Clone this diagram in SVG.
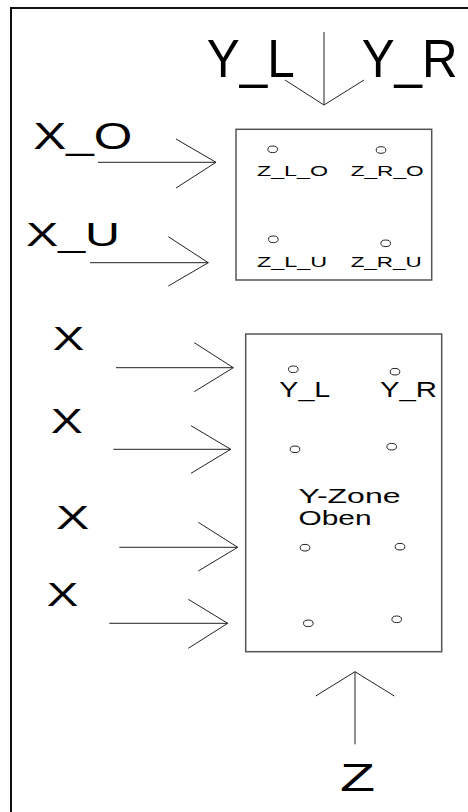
<svg xmlns="http://www.w3.org/2000/svg" width="468" height="812" viewBox="0 0 468 812">
<style>
text{font-family:"Liberation Sans",Arial,sans-serif;fill:#000}
.frame{fill:none;stroke:#111;stroke-width:2}
.box{fill:#fff;stroke:#555;stroke-width:1.5}
.pt{fill:#fff;stroke:#222;stroke-width:1}
.ar{fill:none;stroke:#222;stroke-width:1}
</style>
<rect width="468" height="812" fill="#fff"/>
<path class="frame" d="M11,812 V8 H468"/>
<g id="connectors">
<path class="ar" d="M324,32 V105 M285,80 L324,105 L364,80"/>
<path class="ar" d="M98,162.3 H216 M176,139 L216,162.3 L176,188"/>
<path class="ar" d="M90,262.7 H208.3 M168.3,236.7 L208.3,262.7 L168.3,286"/>
<path class="ar" d="M116,367.7 H233.3 M194.3,342.7 L233.3,367.7 L194.3,391.7"/>
<path class="ar" d="M113.3,449.3 H230.7 M191,425.7 L230.7,449.3 L191,473.3"/>
<path class="ar" d="M119.3,547.3 H237.7 M198.3,522.3 L237.7,547.3 L198.3,571"/>
<path class="ar" d="M109.3,623.3 H227.7 M188.3,599.3 L227.7,623.3 L188.3,648.3"/>
<path class="ar" d="M355,744.3 V671.7 M315.7,696 L355,671.7 L394.3,696"/>
</g>
<g id="top-box">
<rect class="box" x="236" y="129.3" width="195.7" height="150.7"/>
<ellipse class="pt" cx="272.7" cy="149.3" rx="4.8" ry="3.3"/>
<ellipse class="pt" cx="381" cy="150" rx="4.8" ry="3.3"/>
<ellipse class="pt" cx="273.3" cy="239.3" rx="4.8" ry="3.3"/>
<ellipse class="pt" cx="385.7" cy="243.3" rx="4.8" ry="3.3"/>
<text x="257" y="176" font-size="14" textLength="71" lengthAdjust="spacingAndGlyphs">Z_L_O</text>
<text x="350.7" y="176" font-size="14" textLength="73" lengthAdjust="spacingAndGlyphs">Z_R_O</text>
<text x="257" y="267" font-size="14.5" textLength="70" lengthAdjust="spacingAndGlyphs">Z_L_U</text>
<text x="350.7" y="267" font-size="14.5" textLength="71" lengthAdjust="spacingAndGlyphs">Z_R_U</text>
</g>
<g id="big-box">
<rect class="box" x="245.7" y="334" width="196" height="317.7"/>
<ellipse class="pt" cx="293.3" cy="369.3" rx="4.8" ry="3.3"/>
<ellipse class="pt" cx="395" cy="371.7" rx="4.8" ry="3.3"/>
<ellipse class="pt" cx="295" cy="449.3" rx="4.8" ry="3.3"/>
<ellipse class="pt" cx="391.7" cy="446.7" rx="4.8" ry="3.3"/>
<ellipse class="pt" cx="305" cy="547.7" rx="4.8" ry="3.3"/>
<ellipse class="pt" cx="400" cy="546.7" rx="4.8" ry="3.3"/>
<ellipse class="pt" cx="308.3" cy="623.3" rx="4.8" ry="3.3"/>
<ellipse class="pt" cx="396.7" cy="619.3" rx="4.8" ry="3.3"/>
<text x="279.3" y="396.7" font-size="22" textLength="51" lengthAdjust="spacingAndGlyphs">Y_L</text>
<text x="380" y="396.7" font-size="22" textLength="57" lengthAdjust="spacingAndGlyphs">Y_R</text>
<text x="298.5" y="503.3" font-size="19.5" textLength="102" lengthAdjust="spacingAndGlyphs">Y-Zone</text>
<text x="298.5" y="524.5" font-size="19.5" textLength="73" lengthAdjust="spacingAndGlyphs">Oben</text>
</g>
<g id="label-YL"><text x="206.7" y="77.3" font-size="53" textLength="88" lengthAdjust="spacingAndGlyphs">Y_L</text></g>
<g id="label-YR"><text x="361.7" y="77.3" font-size="53" textLength="96" lengthAdjust="spacingAndGlyphs">Y_R</text></g>
<g id="label-XO"><text x="33.3" y="149.3" font-size="36" textLength="99" lengthAdjust="spacingAndGlyphs">X_O</text></g>
<g id="label-XU"><text x="26" y="246" font-size="34" textLength="94" lengthAdjust="spacingAndGlyphs">X_U</text></g>
<g id="label-X1"><text x="52.7" y="350" font-size="34" textLength="31.5" lengthAdjust="spacingAndGlyphs">X</text></g>
<g id="label-X2"><text x="50.7" y="433.3" font-size="35" textLength="32" lengthAdjust="spacingAndGlyphs">X</text></g>
<g id="label-X3"><text x="56" y="529.3" font-size="33" textLength="33.3" lengthAdjust="spacingAndGlyphs">X</text></g>
<g id="label-X4"><text x="46.7" y="606" font-size="33" textLength="31.6" lengthAdjust="spacingAndGlyphs">X</text></g>
<g id="label-Z"><text x="340" y="790.7" font-size="38" textLength="35" lengthAdjust="spacingAndGlyphs">Z</text></g>
</svg>
